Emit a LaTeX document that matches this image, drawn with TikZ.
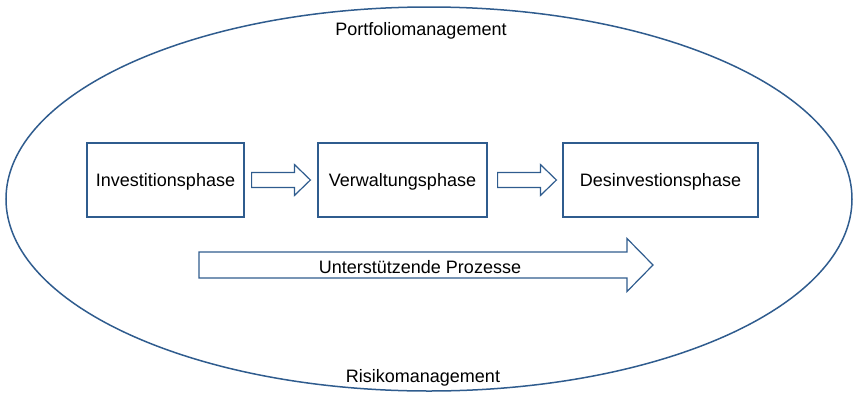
\documentclass[tikz,border=0pt]{standalone}
\usepackage{fontspec}
\setmainfont{Liberation Sans}
\usetikzlibrary{calc}
\definecolor{rahmen}{RGB}{47,92,142}
% block arrow: tail, tip, half shaft, half head, head length
\newcommand{\blockpfeil}[5]{%
  \draw[pfeil] ($(#1)+(0,-#3)$) -- ($(#2)+(-#5,-#3)$) -- ($(#2)+(-#5,-#4)$) -- (#2)
    -- ($(#2)+(-#5,#4)$) -- ($(#2)+(-#5,#3)$) -- ($(#1)+(0,#3)$) -- cycle;}

\begin{document}
\begin{tikzpicture}[x=1pt, y=-1pt, font=\fontsize{18}{22}\selectfont,
    phase/.style={draw=rahmen, line width=1.2pt, minimum height=74pt, inner sep=0pt, text depth=0pt},
    pfeil/.style={draw=rahmen, line width=1.2pt, line join=miter}]
        \useasboundingbox (0,0) rectangle (855,392);

        % outer ellipse
        \draw[rahmen, line width=1.5pt] (429,199) ellipse (423pt and 192pt);
        \node (portfolio) at (421,31) {Portfoliomanagement};
        \node (risiko) at (423,378) {Risikomanagement};

        % phases
        \node[phase, minimum width=157pt] (invest) at (165.5,180) {Investitionsphase};
        \node[phase, minimum width=169pt] (verwaltung) at (402.5,180) {Verwaltungsphase};
        \node[phase, minimum width=195pt] (desinvest) at (660.5,180) {Desinvestionsphase};

        % arrows between phases
        \coordinate (p1a) at ($(invest.east)+(7,0)$);
        \coordinate (p1b) at ($(verwaltung.west)+(-7,0)$);
        \blockpfeil{p1a}{p1b}{7.5}{15.5}{16}
        \coordinate (p2a) at ($(verwaltung.east)+(10,0)$);
        \coordinate (p2b) at ($(desinvest.west)+(-6,0)$);
        \blockpfeil{p2a}{p2b}{7.5}{15.5}{16}

        % supporting processes
        \coordinate (pza) at (199,265);
        \coordinate (pzb) at (653,265);
        \blockpfeil{pza}{pzb}{13}{26.5}{26}
        \node (prozesse) at (420,267) {Unterstützende Prozesse};

    \end{tikzpicture}
\end{document}
